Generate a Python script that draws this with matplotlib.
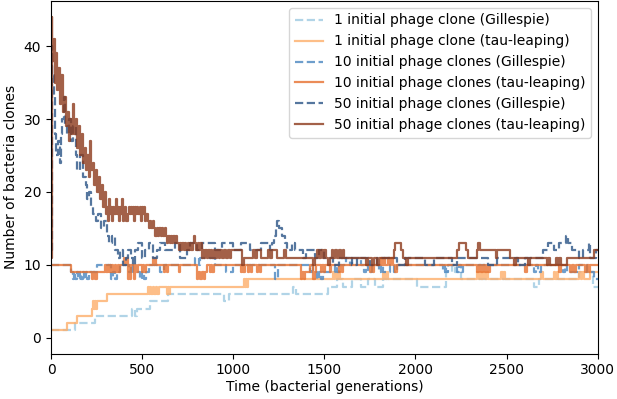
import matplotlib
matplotlib.use('Agg')
import matplotlib.pyplot as plt

# ---- data: step change points as (time, value) pairs ----
# 1 initial phage clone (Gillespie)
g1 = [(0, 1), (130, 2), (240, 3), (445, 4), (460, 3), (470, 4), (545, 5), (640, 6), (950, 5), (975, 6),
      (1330, 7), (1345, 6), (1520, 7), (1570, 8), (1600, 7), (1650, 8), (1700, 7), (1740, 8), (1780, 7),
      (1820, 8), (2010, 7), (2170, 9), (2200, 10), (2215, 9), (2250, 8), (2650, 7), (2680, 8), (2900, 9),
      (2975, 7), (3000, 7)]

# 1 initial phage clone (tau-leaping)
t1 = [(0, 1), (88, 2), (143, 3), (225, 4), (230, 5), (235, 4), (240, 5), (245, 4), (252, 5), (307, 6),
      (532, 7), (537, 6), (545, 7), (550, 6), (560, 7), (565, 6), (575, 7), (580, 6), (590, 7), (636, 6),
      (641, 7), (650, 6), (655, 7), (1057, 8), (1062, 7), (1068, 8), (1073, 7), (1080, 8),
      (1550, 9), (1555, 8), (1560, 9), (1568, 8), (1580, 9), (1585, 8),
      (1820, 9), (1826, 8), (1832, 9), (1838, 8), (1845, 9), (1852, 8),
      (2340, 9), (2346, 8), (2352, 9), (2360, 8), (2370, 9), (2380, 8), (2390, 9), (2400, 8),
      (2470, 9), (2478, 8), (2486, 9), (2494, 8), (2690, 9), (2700, 8), (2760, 9), (2768, 8),
      (2775, 9), (2780, 8), (2900, 9), (2908, 8), (2916, 9), (2924, 8), (2960, 9), (3000, 9)]

# 10 initial phage clones (Gillespie)
g10 = [(0, 10), (110, 9), (118, 8), (126, 9), (134, 8), (142, 9), (150, 8), (158, 9), (166, 8),
       (174, 9), (182, 8), (190, 9), (200, 8), (210, 9), (250, 10), (330, 8), (340, 9), (350, 8),
       (360, 9), (380, 10), (430, 9), (440, 10), (450, 9), (490, 8), (500, 9), (510, 8), (520, 9),
       (540, 10), (600, 9), (620, 10), (790, 11), (810, 10), (820, 11), (900, 10), (960, 9),
       (1000, 10), (1230, 8), (1245, 10), (1420, 9), (1430, 10), (1440, 9), (1460, 8), (1470, 9),
       (1480, 8), (1490, 9), (1560, 10), (1570, 9), (1580, 10), (1620, 11), (1640, 10), (1650, 11),
       (1700, 10), (1720, 9), (1730, 10), (1740, 9), (1760, 10), (1800, 9), (1810, 10), (1820, 9),
       (1860, 10), (1880, 9), (1900, 10), (2150, 9), (2160, 10), (2170, 9), (2180, 10), (2230, 9),
       (2240, 10), (2250, 9), (2260, 10), (2650, 9), (2660, 10), (2670, 9), (2690, 10), (2810, 9),
       (2820, 10), (2830, 9), (2900, 10), (2940, 9), (2980, 8), (3000, 8)]

# 10 initial phage clones (tau-leaping)
t10 = [(0, 10), (110, 9), (225, 8), (232, 9), (240, 8), (250, 9), (296, 10), (304, 9), (310, 10), (316, 9),
       (322, 10), (328, 9), (335, 10), (342, 9), (350, 10), (358, 9), (366, 10), (374, 9), (380, 10),
       (400, 11), (406, 10), (412, 11), (420, 8), (426, 10), (432, 8), (440, 10), (455, 8), (461, 10),
       (467, 9), (475, 10), (500, 9), (506, 10), (512, 9), (520, 10), (560, 11), (566, 10), (572, 11),
       (578, 10), (620, 9), (628, 10), (636, 9), (644, 10), (700, 9), (707, 10), (800, 8), (808, 9),
       (816, 8), (830, 9), (838, 8), (846, 9), (855, 10), (870, 9), (878, 10), (886, 9), (894, 10),
       (1040, 9), (1048, 10), (1056, 9), (1064, 10), (1080, 9), (1088, 10), (1096, 9), (1104, 10),
       (1130, 9), (1138, 10), (1146, 9), (1154, 10), (1370, 8), (1378, 9), (1386, 8), (1394, 9),
       (1420, 10), (1440, 8), (1446, 9), (1452, 10), (1480, 9), (1488, 10), (1496, 9), (1504, 10),
       (1530, 9), (1538, 10), (1580, 9), (1588, 10), (1596, 9), (1604, 10), (1750, 9), (1758, 10),
       (1766, 9), (1774, 10), (1810, 11), (1818, 10), (1826, 11), (1834, 10), (1850, 11), (1858, 10),
       (1866, 11), (1874, 10), (1890, 9), (1900, 10), (2340, 9), (2350, 10), (2360, 9), (2370, 10),
       (2380, 9), (2390, 10), (2400, 9), (2410, 10), (2600, 9), (2610, 10), (2790, 9), (2800, 10),
       (2850, 9), (2860, 10), (2870, 9), (2880, 10), (2930, 9), (2940, 10), (2950, 9), (2960, 10),
       (3000, 10)]

# 50 initial phage clones (Gillespie)
g50 = [(0, 12), (3, 40), (8, 36), (15, 33), (22, 28), (30, 25), (40, 27), (48, 24), (55, 28), (62, 30),
       (70, 33), (78, 29), (88, 28), (100, 30), (110, 27), (120, 29), (135, 25), (145, 23), (160, 25),
       (175, 22), (190, 21), (200, 19), (210, 20), (220, 18), (230, 17), (245, 16), (260, 17), (275, 15),
       (290, 16), (307, 14), (320, 13), (335, 14), (351, 12), (365, 11), (380, 12), (395, 10), (410, 11),
       (423, 12), (440, 11), (450, 10), (460, 12), (480, 13), (500, 11), (516, 12), (540, 13), (560, 11),
       (580, 12), (600, 13), (626, 12), (680, 13), (710, 11), (745, 12), (760, 13), (800, 12), (830, 13),
       (900, 12), (940, 13), (1000, 12), (1040, 13), (1090, 12), (1150, 13), (1200, 12), (1215, 13),
       (1225, 14), (1235, 15), (1242, 16), (1250, 15), (1265, 14), (1285, 13), (1295, 12), (1320, 13),
       (1340, 12), (1383, 11), (1400, 12), (1450, 11), (1470, 12), (1500, 11), (1550, 10), (1580, 11),
       (1650, 10), (1680, 11), (1750, 10), (1790, 11), (1900, 10), (1940, 11), (2050, 10), (2100, 11),
       (2200, 10), (2230, 11), (2400, 10), (2450, 11), (2560, 10), (2600, 11), (2700, 12), (2730, 13),
       (2760, 12), (2790, 13), (2825, 14), (2835, 13), (2860, 12), (2900, 11), (2920, 12), (2950, 13),
       (2960, 11), (2990, 12), (3000, 12)]

# 50 initial phage clones (tau-leaping)
t50 = [(0, 11), (3, 44), (8, 38), (14, 41), (20, 35), (26, 39), (32, 34), (40, 37), (48, 32), (56, 36),
       (64, 31), (72, 33), (80, 29), (88, 31), (96, 27), (104, 30), (112, 28), (120, 32), (128, 28),
       (136, 30), (144, 26), (152, 29), (160, 25), (168, 28), (176, 24), (184, 26), (192, 23), (200, 25),
       (208, 22), (216, 27), (222, 23), (230, 24), (238, 21), (246, 23), (254, 20), (262, 22), (270, 19),
       (278, 21), (286, 18), (294, 20), (302, 17), (308, 18), (314, 16), (320, 19), (325, 17), (330, 18),
       (336, 16), (342, 18), (348, 17), (354, 19), (360, 17), (366, 18), (372, 16), (378, 18), (384, 17),
       (390, 19), (396, 16), (402, 17), (408, 18), (414, 16), (420, 17), (426, 18), (432, 17), (438, 18),
       (444, 17), (450, 18), (456, 16), (462, 18), (468, 17), (474, 18), (480, 17), (486, 18), (492, 16),
       (498, 18), (504, 17), (510, 18), (516, 16), (522, 17), (530, 16), (537, 15), (544, 16), (551, 15),
       (558, 16), (565, 15), (572, 14), (580, 15), (587, 14), (595, 15), (602, 14), (609, 15), (616, 14),
       (623, 15), (630, 14), (637, 13), (644, 14), (651, 13), (658, 14), (665, 13), (672, 14), (679, 13),
       (686, 14), (693, 13), (700, 12), (707, 13), (714, 12), (721, 13), (728, 12), (735, 13), (742, 12),
       (749, 13), (756, 12), (763, 13), (770, 12), (777, 13), (784, 14), (791, 13), (798, 12), (805, 13),
       (812, 12), (819, 13), (826, 11), (833, 12), (840, 11), (847, 12), (855, 11), (862, 12), (870, 11),
       (878, 12), (886, 11), (894, 12), (902, 11), (910, 12), (920, 11), (930, 12), (940, 11), (950, 12),
       (960, 11), (970, 12), (980, 11), (990, 12), (1050, 10), (1060, 11), (1080, 11), (1110, 12),
       (1120, 11), (1130, 12), (1150, 11), (1190, 12), (1200, 11), (1210, 12), (1240, 11), (1280, 12),
       (1290, 11), (1330, 11), (1440, 10), (1450, 11), (1460, 12), (1470, 11), (1480, 12), (1490, 11),
       (1500, 12), (1510, 11), (1520, 10), (1530, 11), (1540, 12), (1550, 11), (1560, 12), (1570, 11),
       (1580, 12), (1590, 11), (1600, 12), (1610, 11), (1620, 11), (1730, 10), (1740, 11), (1760, 10),
       (1770, 11), (1790, 10), (1800, 11), (1880, 12), (1890, 13), (1920, 12), (1930, 11), (1950, 10),
       (1958, 11), (1965, 11), (2230, 12), (2240, 13), (2280, 12), (2290, 11), (2340, 12), (2345, 13),
       (2355, 12), (2440, 11), (2448, 12), (2456, 12), (2520, 11), (2540, 10), (2550, 11), (2560, 11),
       (2620, 10), (2630, 11), (2640, 11), (2720, 10), (2730, 11), (2740, 10), (2770, 11), (2780, 10),
       (2790, 11), (2800, 10), (2830, 11), (2840, 11), (2980, 12), (3000, 12)]

labels = ['1 initial phage clone (Gillespie)', '1 initial phage clone (tau-leaping)',
          '10 initial phage clones (Gillespie)', '10 initial phage clones (tau-leaping)',
          '50 initial phage clones (Gillespie)', '50 initial phage clones (tau-leaping)']

series = [g1, t1, g10, t10, g50, t50]
colors = ['#9ecae1', '#fdae6b', '#4a86c0', '#e6702e', '#2b5486', '#8c3a1c']
styles = ['--', '-', '--', '-', '--', '-']

fig = plt.figure(figsize=(6.17, 3.99), dpi=100)
ax = fig.add_axes([0.0827, 0.1135, 0.886, 0.884])

for s, c, ls, lab in zip(series, colors, styles, labels):
    t = [p[0] for p in s]
    v = [p[1] for p in s]
    ax.plot(t, v, drawstyle='steps-post', color=c, linestyle=ls, linewidth=1.6, alpha=0.8, label=lab)

ax.set_xlim(0, 3000)
ax.set_ylim(-2.2, 46.2)
ax.set_xticks([0, 500, 1000, 1500, 2000, 2500, 3000])
ax.set_yticks([0, 10, 20, 30, 40])
ax.tick_params(labelsize=10)
ax.set_xlabel('Time (bacterial generations)', fontsize=10, labelpad=2)
ax.set_ylabel('Number of bacteria clones', fontsize=10, labelpad=4)
ax.legend(loc='upper right', fontsize=10)

fig.savefig('out.png', dpi=100)
